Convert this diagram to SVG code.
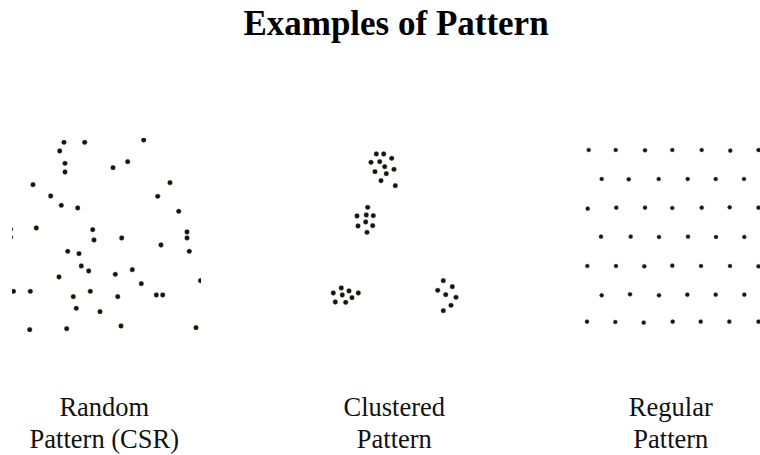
<svg xmlns="http://www.w3.org/2000/svg" width="760" height="455" viewBox="0 0 760 455">
<style>
.title{font-family:"Liberation Serif","Times New Roman",serif;font-weight:bold;font-size:35px;fill:#000;text-anchor:middle}
.lbl{font-family:"Liberation Serif","Times New Roman",serif;font-size:26.5px;fill:#111;text-anchor:middle}
.d circle{fill:#14140c;stroke:#5a6a50;stroke-width:0.6;stroke-opacity:0.5}
</style>
<defs>
<clipPath id="cr"><rect x="12" y="138" width="189" height="194"/></clipPath>
<clipPath id="cg"><rect x="580" y="140" width="180" height="190"/></clipPath>
</defs>
<rect width="760" height="455" fill="#fff"/>
<text class="title" x="396" y="35">Examples of Pattern</text>

<g id="random" class="d" clip-path="url(#cr)">
<circle cx="64" cy="142.3" r="2.4"/><circle cx="84.7" cy="142.3" r="2.4"/><circle cx="143.7" cy="140" r="2.4"/>
<circle cx="59.7" cy="151" r="2.4"/><circle cx="65" cy="163.3" r="2.4"/><circle cx="65" cy="172" r="2.4"/>
<circle cx="113" cy="167.7" r="2.4"/><circle cx="127.7" cy="161.7" r="2.4"/>
<circle cx="33" cy="184.7" r="2.4"/><circle cx="170" cy="182.7" r="2.4"/>
<circle cx="50.7" cy="196" r="2.4"/><circle cx="157.7" cy="196.3" r="2.4"/>
<circle cx="61.3" cy="205.3" r="2.4"/><circle cx="77.7" cy="208" r="2.4"/><circle cx="178.7" cy="211.3" r="2.4"/>
<circle cx="36.3" cy="228" r="2.4"/><circle cx="92.7" cy="229.7" r="2.4"/><circle cx="187" cy="232" r="2.4"/>
<circle cx="187" cy="238" r="2.4"/><circle cx="94" cy="240" r="2.4"/><circle cx="121.7" cy="238" r="2.4"/>
<circle cx="161" cy="245" r="2.4"/><circle cx="10.5" cy="229.3" r="2.4"/><circle cx="10.5" cy="237.3" r="2.4"/>
<circle cx="67.7" cy="251.3" r="2.4"/><circle cx="79" cy="253.7" r="2.4"/><circle cx="189.3" cy="251.3" r="2.4"/>
<circle cx="81.3" cy="266" r="2.4"/><circle cx="88.7" cy="271" r="2.4"/><circle cx="132.3" cy="269.7" r="2.4"/>
<circle cx="115.3" cy="274.3" r="2.4"/><circle cx="59" cy="277" r="2.4"/><circle cx="141.3" cy="283.7" r="2.4"/>
<circle cx="200.5" cy="280.7" r="2.4"/><circle cx="13.5" cy="291.3" r="2.4"/><circle cx="30.3" cy="291.3" r="2.4"/>
<circle cx="90.3" cy="291.3" r="2.4"/><circle cx="73.3" cy="296.7" r="2.4"/><circle cx="117.7" cy="296.7" r="2.4"/>
<circle cx="156.3" cy="295" r="2.4"/><circle cx="162.7" cy="295" r="2.4"/>
<circle cx="76.3" cy="308.3" r="2.4"/><circle cx="100" cy="311.7" r="2.4"/>
<circle cx="29.7" cy="329.7" r="2.4"/><circle cx="66.7" cy="328.7" r="2.4"/><circle cx="121" cy="326" r="2.4"/><circle cx="196" cy="327.7" r="2.4"/>
</g>

<g id="clustered" class="d">
<circle cx="376.3" cy="154" r="2.4"/><circle cx="383.7" cy="154" r="2.4"/><circle cx="371" cy="162.3" r="2.4"/>
<circle cx="379.7" cy="161.7" r="2.4"/><circle cx="391.7" cy="158.3" r="2.4"/><circle cx="384.7" cy="166.7" r="2.4"/>
<circle cx="394" cy="169.3" r="2.4"/><circle cx="375" cy="171.7" r="2.4"/><circle cx="386.3" cy="173.7" r="2.4"/>
<circle cx="381" cy="180.7" r="2.4"/><circle cx="395.3" cy="185.7" r="2.4"/>
<circle cx="367.7" cy="207.3" r="2.4"/><circle cx="357" cy="216" r="2.4"/><circle cx="366.3" cy="215" r="2.4"/>
<circle cx="373.3" cy="215.7" r="2.4"/><circle cx="365.7" cy="222" r="2.4"/><circle cx="358" cy="226" r="2.4"/>
<circle cx="372.7" cy="225.7" r="2.4"/><circle cx="367" cy="232.3" r="2.4"/>
<circle cx="341.3" cy="288" r="2.4"/><circle cx="349" cy="291" r="2.4"/><circle cx="333.3" cy="293" r="2.4"/>
<circle cx="342.3" cy="295" r="2.4"/><circle cx="358.3" cy="293" r="2.4"/><circle cx="352" cy="297.7" r="2.4"/>
<circle cx="335.3" cy="302" r="2.4"/><circle cx="345.7" cy="302.3" r="2.4"/>
<circle cx="443.3" cy="280.7" r="2.4"/><circle cx="452.3" cy="286.7" r="2.4"/><circle cx="437.7" cy="290.3" r="2.4"/>
<circle cx="445.7" cy="294.7" r="2.4"/><circle cx="456" cy="297.3" r="2.4"/><circle cx="451" cy="305.3" r="2.4"/>
<circle cx="443.3" cy="310.7" r="2.4"/>
</g>

<g id="regular" class="d" clip-path="url(#cg)">
<circle cx="588.7" cy="150" r="2.1"/><circle cx="615.7" cy="150" r="2.1"/><circle cx="645" cy="150.3" r="2.1"/><circle cx="672.3" cy="150" r="2.1"/><circle cx="701.7" cy="150" r="2.1"/><circle cx="730.3" cy="150.7" r="2.1"/><circle cx="758.5" cy="150" r="2.1"/>
<circle cx="601.7" cy="179" r="2.1"/><circle cx="628.7" cy="179.3" r="2.1"/><circle cx="658.7" cy="179" r="2.1"/><circle cx="687.7" cy="179" r="2.1"/><circle cx="715.7" cy="179" r="2.1"/><circle cx="744" cy="179" r="2.1"/>
<circle cx="587.7" cy="208.7" r="2.1"/><circle cx="616.3" cy="207.7" r="2.1"/><circle cx="645" cy="207.7" r="2.1"/><circle cx="672.3" cy="208" r="2.1"/><circle cx="701.7" cy="207.7" r="2.1"/><circle cx="729.7" cy="207.3" r="2.1"/><circle cx="758.5" cy="207.7" r="2.1"/>
<circle cx="601" cy="236.7" r="2.1"/><circle cx="630.7" cy="236.7" r="2.1"/><circle cx="659" cy="237" r="2.1"/><circle cx="688" cy="236.7" r="2.1"/><circle cx="716" cy="237" r="2.1"/><circle cx="744.3" cy="237" r="2.1"/>
<circle cx="587.3" cy="266" r="2.1"/><circle cx="616" cy="266" r="2.1"/><circle cx="644.3" cy="266.3" r="2.1"/><circle cx="672.3" cy="265.7" r="2.1"/><circle cx="701" cy="266" r="2.1"/><circle cx="730" cy="266" r="2.1"/><circle cx="758.5" cy="266.3" r="2.1"/>
<circle cx="601.7" cy="295.3" r="2.1"/><circle cx="630" cy="294.3" r="2.1"/><circle cx="659" cy="295.3" r="2.1"/><circle cx="687.3" cy="294.7" r="2.1"/><circle cx="715.7" cy="294.7" r="2.1"/><circle cx="744.3" cy="294.7" r="2.1"/>
<circle cx="587" cy="321.7" r="2.1"/><circle cx="615.3" cy="322" r="2.1"/><circle cx="643.7" cy="322.7" r="2.1"/><circle cx="672.7" cy="321.7" r="2.1"/><circle cx="700.7" cy="321.7" r="2.1"/><circle cx="729.3" cy="321.7" r="2.1"/><circle cx="758.5" cy="321.7" r="2.1"/>
</g>

<g id="label-random"><text class="lbl" x="104.3" y="415.5">Random</text><text class="lbl" x="104.3" y="447.5">Pattern (CSR)</text></g>
<g id="label-clustered"><text class="lbl" x="394.3" y="415.5">Clustered</text><text class="lbl" x="394.3" y="447.5">Pattern</text></g>
<g id="label-regular"><text class="lbl" x="670.8" y="415.5">Regular</text><text class="lbl" x="670.8" y="447.5">Pattern</text></g>
</svg>
